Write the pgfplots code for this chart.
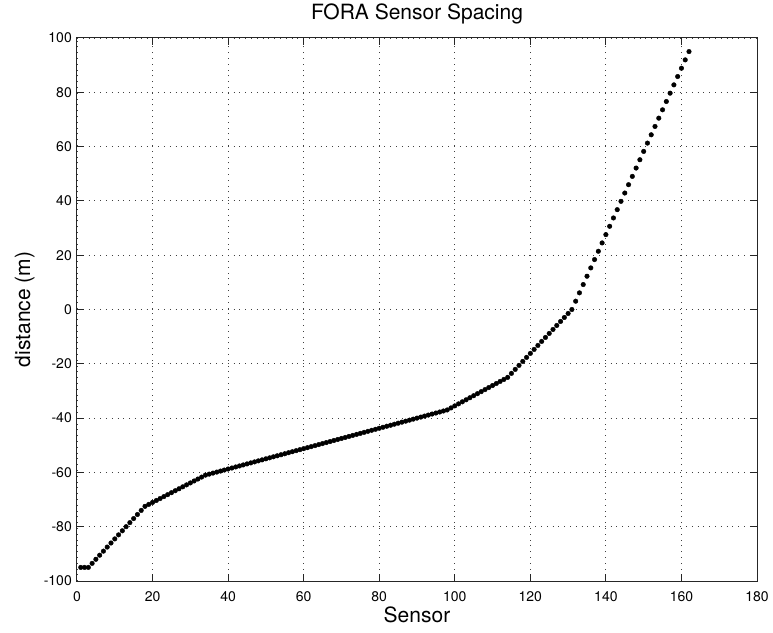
\documentclass[border=0pt]{standalone}
\usepackage{fontspec}
\setmainfont{TeX Gyre Heros}
\usepackage{pgfplots}
\usepackage{pgfplotstable}
\pgfplotsset{compat=1.18}

% Along-array position of each FORA sensor
\pgfplotstableread{
sensor dist
1 -95
2 -95
3 -95
4 -93.5
5 -92
6 -90.5
7 -89
8 -87.5
9 -86
10 -84.5
11 -83
12 -81.5
13 -80
14 -78.5
15 -77
16 -75.5
17 -74
18 -72.5
19 -71.78
20 -71.06
21 -70.34
22 -69.63
23 -68.91
24 -68.19
25 -67.47
26 -66.75
27 -66.03
28 -65.31
29 -64.59
30 -63.88
31 -63.16
32 -62.44
33 -61.72
34 -61
35 -60.63
36 -60.25
37 -59.88
38 -59.5
39 -59.13
40 -58.75
41 -58.38
42 -58
43 -57.63
44 -57.25
45 -56.88
46 -56.5
47 -56.13
48 -55.75
49 -55.38
50 -55
51 -54.63
52 -54.25
53 -53.88
54 -53.5
55 -53.13
56 -52.75
57 -52.38
58 -52
59 -51.63
60 -51.25
61 -50.88
62 -50.5
63 -50.13
64 -49.75
65 -49.38
66 -49
67 -48.63
68 -48.25
69 -47.88
70 -47.5
71 -47.13
72 -46.75
73 -46.38
74 -46
75 -45.63
76 -45.25
77 -44.88
78 -44.5
79 -44.13
80 -43.75
81 -43.38
82 -43
83 -42.63
84 -42.25
85 -41.88
86 -41.5
87 -41.13
88 -40.75
89 -40.38
90 -40
91 -39.63
92 -39.25
93 -38.88
94 -38.5
95 -38.13
96 -37.75
97 -37.38
98 -37
99 -36.25
100 -35.5
101 -34.75
102 -34
103 -33.25
104 -32.5
105 -31.75
106 -31
107 -30.25
108 -29.5
109 -28.75
110 -28
111 -27.25
112 -26.5
113 -25.75
114 -25
115 -23.53
116 -22.06
117 -20.59
118 -19.12
119 -17.65
120 -16.18
121 -14.71
122 -13.24
123 -11.76
124 -10.29
125 -8.82
126 -7.35
127 -5.88
128 -4.41
129 -2.94
130 -1.47
131 0
132 3.06
133 6.13
134 9.19
135 12.26
136 15.32
137 18.39
138 21.45
139 24.52
140 27.58
141 30.65
142 33.71
143 36.77
144 39.84
145 42.90
146 45.97
147 49.03
148 52.10
149 55.16
150 58.23
151 61.29
152 64.35
153 67.42
154 70.48
155 73.55
156 76.61
157 79.68
158 82.74
159 85.81
160 88.87
161 91.94
162 95
}\sensortable

\begin{document}
\begin{tikzpicture}
\begin{axis}[
  at={(0,0)}, anchor=south west,
  scale only axis,
  width=680pt, height=543pt,
  xmin=0, xmax=180, ymin=-100, ymax=100,
  xtick={0,20,...,180},
  ytick={-100,-80,...,100},
  tick align=inside,
  major tick length=7pt,
  axis line style={line width=1pt, black!85},
  every tick/.style={line width=1pt, black!85},
  grid=major,
  major grid style={line width=0.8pt, black!75, dash pattern=on 0.9pt off 4.9pt},
  /pgf/number format/assume math mode=true,
  tick label style={font=\fontsize{14}{16}\selectfont},
  xticklabel style={anchor=base, yshift=-20pt},
  yticklabel style={anchor=east, inner sep=0pt, xshift=-5pt},
  title={FORA Sensor Spacing},
  title style={font=\fontsize{21}{24}\selectfont, at={(axis description cs:0.5,1.0221)}, anchor=base, inner sep=0pt},
  xlabel={Sensor},
  xlabel style={font=\fontsize{21}{24}\selectfont, at={(axis description cs:0.5,-0.0755)}, anchor=base, inner sep=0pt},
  ylabel={distance (m)},
  ylabel style={font=\fontsize{21}{24}\selectfont, at={(axis description cs:-0.0691,0.5)}, anchor=base, rotate=0, inner sep=0pt},
]
\addplot[only marks, mark=*, mark size=2.3pt, black, mark options={draw=none, fill=black}]
  table[x=sensor, y=dist] {\sensortable};
\end{axis}
\useasboundingbox (-77pt,-51pt) rectangle (696pt,581pt);
\end{tikzpicture}
\end{document}
